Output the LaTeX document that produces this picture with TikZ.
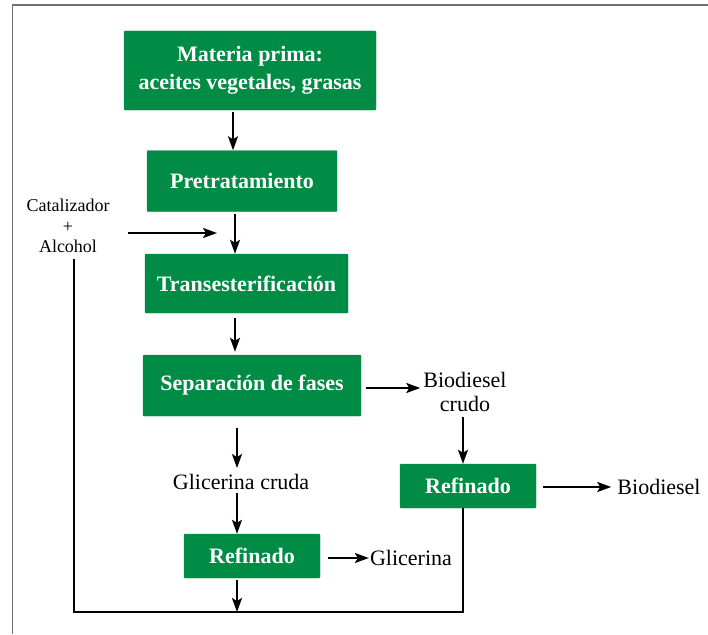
\documentclass[tikz,border=0pt]{standalone}
\usepackage{fontspec}
\setmainfont{Liberation Serif}
\usetikzlibrary{arrows.meta}
\definecolor{boxgreen}{RGB}{0,140,69}
\definecolor{framegray}{RGB}{110,110,110}
\tikzset{
  gbox/.style={draw=boxgreen, fill=boxgreen, text=white, font=\bfseries\fontsize{22}{28}\selectfont, align=center, inner sep=0pt, rounded corners=1pt},
  lbl/.style={font=\fontsize{22}{24.5}\selectfont, align=center, inner sep=0pt},
  smalllbl/.style={font=\fontsize{18}{20.5}\selectfont, align=center, inner sep=0pt},
  arr/.style={line width=2pt, -{Stealth[length=14pt,width=10pt,inset=3pt]}},
  ln/.style={line width=2pt},
}
\begin{document}
\begin{tikzpicture}[x=1pt,y=-1pt]
\useasboundingbox (0,0) rectangle (708,634);
\draw[framegray, line width=1.5pt] (12.5,634) -- (12.5,5) -- (708,5);

\node[gbox, minimum width=252pt, minimum height=79pt] (mp) at (250,70.5) {Materia prima:\\aceites vegetales, grasas};
\node[gbox, minimum width=190pt, minimum height=61pt] (pre) at (242,181) {Pretratamiento};
\node[gbox, minimum width=203pt, minimum height=59pt] (tra) at (246.5,283.5) {Transesterificación};
\node[gbox, minimum width=218pt, minimum height=61pt] (sep) at (252,385.5) {Separación de fases};
\node[gbox, minimum width=136pt, minimum height=44pt] (refR) at (468,486) {Refinado};
\node[gbox, minimum width=136pt, minimum height=44pt] (refL) at (252,556) {Refinado};

\node[smalllbl] (cat) at (68,226) {Catalizador\\+\\Alcohol};
\node[lbl] (bcr) at (465,392) {Biodiesel\\crudo};
\node[lbl] (gcr) at (241,482) {Glicerina cruda};
\node[lbl] (gli) at (411,558) {Glicerina};
\node[lbl] (bio) at (659,487) {Biodiesel};

\coordinate (join) at (217,233);
\coordinate (bl) at (74,612);
\coordinate (br) at (463,612);
\coordinate (bm) at (237,612);

\draw[arr, shorten <=2pt] (233,0 |- mp.south) -- (233,0 |- pre.north);
\draw[arr, shorten <=2pt] (235,0 |- pre.south) -- (235,0 |- tra.north);
\draw[arr] (128,233) -- (join);
\draw[arr, shorten <=5pt, shorten >=3pt] (235,0 |- tra.south) -- (235,0 |- sep.north);
\draw[arr, shorten <=5pt, shorten >=3pt] (sep.east |- 0,388) -- (bcr.west |- 0,388);
\draw[arr, shorten <=5pt] (463,0 |- bcr.south) -- (463,0 |- refR.north);
\draw[arr, shorten <=7pt, shorten >=6pt] (refR.east |- 0,487) -- (bio.west |- 0,487);
\draw[arr, shorten <=12pt, shorten >=6pt] (237,0 |- sep.south) -- (237,0 |- gcr.north);
\draw[arr, shorten <=3pt] (237,0 |- gcr.south) -- (237,0 |- refL.north);
\draw[arr, shorten <=8pt, shorten >=1pt] (refL.east |- 0,558) -- (gli.west |- 0,558);
\draw[ln] (74,0 |- cat.south) ++(0,6) -- (bl) -- (br) -- (463,0 |- refR.south);
\draw[arr, shorten <=2pt] (237,0 |- refL.south) -- (bm);
\end{tikzpicture}
\end{document}
